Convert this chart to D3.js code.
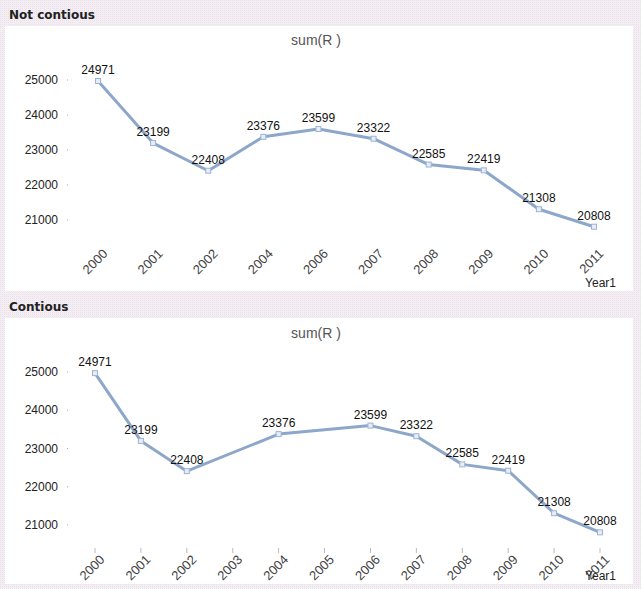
<!DOCTYPE html>
<html>
<head>
<meta charset="utf-8">
<script src="https://cdn.jsdelivr.net/npm/d3@7"></script>
<style>
  body { margin: 0; background: #ffffff; }
  svg { display: block; font-family: Arial, "Liberation Sans", sans-serif; }
</style>
</head>
<body>
<div id="chart"></div>
<script>
const width = 641;
const height = 589;

// Données
const yearsGap = ["2000", "2001", "2002", "2004", "2006", "2007", "2008", "2009", "2010", "2011"];
const yearsAll = ["2000", "2001", "2002", "2003", "2004", "2005", "2006", "2007", "2008", "2009", "2010", "2011"];
const sumR = [24971, 23199, 22408, 23376, 23599, 23322, 22585, 22419, 21308, 20808];
const yTicks = [21000, 22000, 23000, 24000, 25000];
const panelTitles = ["Not contious", "Contious"];

const svg = d3.select("#chart")
    .append("svg")
    .attr("width", width)
    .attr("height", height);

// fond gris/rose tramé
const pat = svg.append("defs").append("pattern")
    .attr("id", "dither")
    .attr("width", 2).attr("height", 2)
    .attr("patternUnits", "userSpaceOnUse");
pat.append("rect").attr("width", 2).attr("height", 2).attr("fill", "#f4f0f6");
pat.append("rect").attr("width", 1).attr("height", 1).attr("fill", "#e4e4e4");
pat.append("rect").attr("x", 1).attr("y", 1).attr("width", 1).attr("height", 1).attr("fill", "#f8e8f6");

svg.append("rect").attr("width", width).attr("height", height).attr("fill", "url(#dither)");

const panels = [
    { top: 0, bodyTop: 26, bodyBottom: 291, years: yearsGap, xRange: [98, 594], yRange: [220, 80],
      titleY: 45, tickY: 247, tickMarks: false, yearY: 287 },
    { top: 292, bodyTop: 318, bodyBottom: 584, years: yearsAll, xRange: [95, 600], yRange: [525, 372],
      titleY: 338, tickY: 553, tickMarks: true, yearY: 580 }
];

panels.forEach((p, i) => {
    const g = svg.append("g");

    // titre du panneau
    g.append("text")
        .attr("x", 9)
        .attr("y", p.top + 19)
        .style("font-family", "Tahoma, 'DejaVu Sans', sans-serif")
        .style("font-size", "12px")
        .style("font-weight", "bold")
        .style("fill", "#222")
        .text(panelTitles[i]);

    // zone blanche
    g.append("rect")
        .attr("x", 5)
        .attr("y", p.bodyTop)
        .attr("width", 628)
        .attr("height", p.bodyBottom - p.bodyTop)
        .attr("fill", "#fff");

    const x = d3.scalePoint().domain(p.years).range(p.xRange);
    const y = d3.scaleLinear().domain([21000, 25000]).range(p.yRange);

    g.append("text")
        .attr("x", 316)
        .attr("y", p.titleY)
        .attr("text-anchor", "middle")
        .style("font-size", "14px")
        .style("fill", "#555")
        .text("sum(R )");

    // axe Y : labels + petits points
    const yAxis = g.append("g");
    yTicks.forEach(t => {
        yAxis.append("text")
            .attr("x", 58)
            .attr("y", y(t))
            .attr("dy", "0.35em")
            .attr("text-anchor", "end")
            .style("font-size", "12px")
            .style("fill", "#222")
            .text(t);
        yAxis.append("rect")
            .attr("x", 67)
            .attr("y", y(t) - 0.5)
            .attr("width", 1)
            .attr("height", 1)
            .attr("fill", "#aaa");
    });

    // axe X
    p.years.forEach(yr => {
        if (p.tickMarks) {
            g.append("line")
                .attr("x1", x(yr)).attr("x2", x(yr))
                .attr("y1", p.tickY - 5).attr("y2", p.tickY)
                .attr("stroke", "#bbb");
        }
        g.append("text")
            .attr("transform", `translate(${x(yr) + 4},${p.tickY + 1}) rotate(-45)`)
            .attr("text-anchor", "end")
            .attr("dy", "0.7em")
            .style("font-size", "13px")
            .style("fill", "#444")
            .text(yr);
    });

    g.append("text")
        .attr("x", 616)
        .attr("y", p.yearY)
        .attr("text-anchor", "end")
        .style("font-size", "12px")
        .style("fill", "#222")
        .text("Year1");

    const pts = yearsGap.map((yr, k) => ({ year: yr, value: sumR[k] }));

    const line = d3.line()
        .x(d => x(d.year))
        .y(d => y(d.value));

    g.append("path")
        .datum(pts)
        .attr("d", line)
        .attr("fill", "none")
        .attr("stroke", "#8da7ca")
        .attr("stroke-width", 3)
        .attr("stroke-linejoin", "round");

    g.selectAll(".pt")
        .data(pts)
        .enter()
        .append("rect")
        .attr("x", d => x(d.year) - 2.5)
        .attr("y", d => y(d.value) - 2.5)
        .attr("width", 5)
        .attr("height", 5)
        .attr("fill", "#e6edf7")
        .attr("stroke", "#9db3d4")
        .attr("stroke-width", 1);

    g.selectAll(".lbl")
        .data(pts)
        .enter()
        .append("text")
        .attr("x", d => x(d.year))
        .attr("y", d => y(d.value) - 7)
        .attr("text-anchor", "middle")
        .style("font-size", "12px")
        .style("fill", "#111")
        .text(d => d.value);
});
</script>
</body>
</html>
